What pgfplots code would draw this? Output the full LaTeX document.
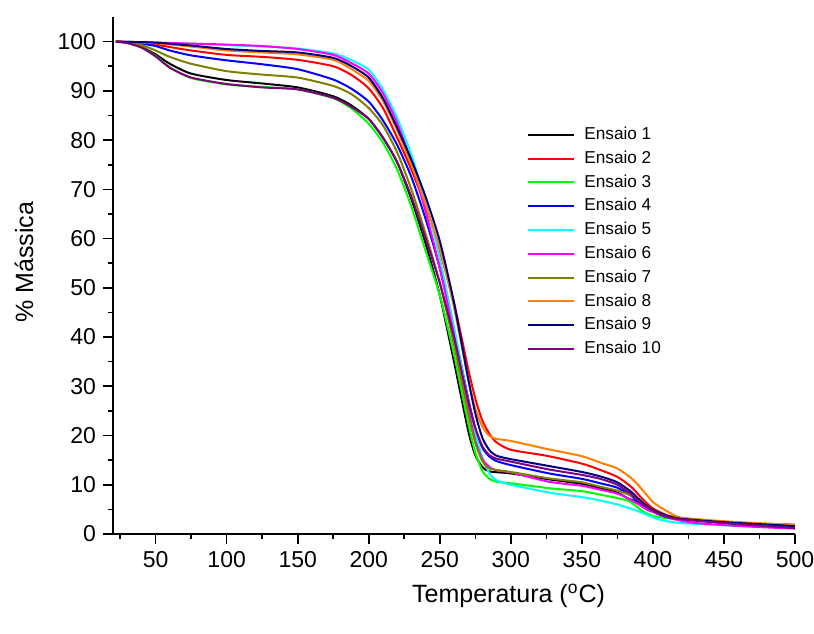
\documentclass[border=0pt]{standalone}
\usepackage{pgfplots}
\pgfplotsset{compat=1.18}
\usepackage{fontspec}
\setmainfont{Liberation Sans}
\definecolor{c1}{RGB}{0,0,0}
\definecolor{c2}{RGB}{255,0,0}
\definecolor{c3}{RGB}{0,255,0}
\definecolor{c4}{RGB}{0,0,255}
\definecolor{c5}{RGB}{0,255,255}
\definecolor{c6}{RGB}{255,0,255}
\definecolor{c7}{RGB}{128,128,0}
\definecolor{c8}{RGB}{255,128,0}
\definecolor{c9}{RGB}{0,0,128}
\definecolor{c10}{RGB}{128,0,128}
\begin{document}
\begin{tikzpicture}
\path[use as bounding box] (-56.5pt,-49.5pt) rectangle (350.5pt,267pt);
\begin{axis}[
  scale only axis, width=341pt, height=258.5pt,
  xmin=20, xmax=500, ymin=0, ymax=105,
  axis x line=bottom, axis y line=left,
  axis line style={-, line width=1pt},
  tick align=outside,
  major tick length=5pt, minor tick length=2.5pt,
  every tick/.style={black, line width=0.8pt},
  xtick={50,100,...,500}, minor xtick={25,75,...,475},
  ytick={0,10,...,100}, minor ytick={5,15,...,95},
  /pgf/number format/assume math mode=true,
  ticklabel style={font=\fontsize{11.5}{13}\selectfont},
  xlabel={Temperatura (\textsuperscript{o}C)},
  ylabel={\% Mássica},
  label style={font=\fontsize{12.5}{15}\selectfont},
  xlabel style={at={(axis description cs:0.58,-0.12)}, anchor=center},
  ylabel style={at={(axis description cs:-0.1305,0.526)}, anchor=center},
  legend style={at={(axis description cs:0.607,0.793)}, anchor=north west, draw=none, fill=none,
    font=\fontsize{8.6}{10}\selectfont, inner sep=0pt, row sep=1.6pt,
    nodes={inner sep=1pt, text height=6.5pt, text depth=1.8pt},
    /tikz/every odd column/.append style={column sep=3.5pt}},
  legend cell align=left,
  legend image code/.code={\draw[#1] (0pt,0pt) -- (23pt,0pt);},
  every axis plot/.append style={line width=1pt, smooth, tension=0.4},
]
% Ensaio 1
\addplot[c1] coordinates {(22,100)(30,99.8)(40,98.9)(50,97.4)(60,95.5)(75,93.5)(100,92.2)(125,91.5)(150,90.7)(175,88.9)(188,87.0)(200,84.3)(210,80.5)(220,75.5)(230,68)(240,59)(250,48.5)(260,35)(270,21)(275,16)(280,13.6)(285,12.7)(300,12.3)(327,11.1)(350,10.2)(363,9.3)(375,8.4)(382,7.3)(388,6.6)(395,5.4)(405,4.0)(420,3.1)(450,2.3)(475,1.9)(500,1.6)};
% Ensaio 2
\addplot[c2] coordinates {(22,100)(30,99.9)(40,99.7)(50,99.4)(60,98.9)(75,98.2)(100,97.3)(125,96.9)(150,96.3)(175,95)(188,93.2)(200,90.5)(210,86.5)(220,80.5)(230,74)(240,66.5)(250,57.5)(260,47)(270,33.5)(275,27.5)(280,23)(285,20.3)(290,18.6)(300,17.1)(325,15.9)(350,14.3)(363,13)(375,11.6)(385,9.5)(393,7)(400,5.2)(410,3.8)(420,3.2)(450,2.5)(475,2.1)(500,1.9)};
% Ensaio 3
\addplot[c3] coordinates {(22,100)(30,99.7)(40,98.8)(50,97.1)(60,94.8)(75,92.6)(100,91.3)(125,90.8)(150,90.3)(175,88.5)(188,86.4)(200,83.3)(210,79.5)(220,74)(230,66.5)(240,57.5)(250,48.5)(260,36.5)(270,22.5)(275,16.5)(280,12.8)(285,11.2)(290,10.6)(300,10.3)(327,9.3)(350,8.7)(363,8)(375,7.3)(383,6.7)(388,5.7)(393,4.6)(400,3.7)(410,3.2)(420,3)(450,2.3)(475,1.8)(500,1.5)};
% Ensaio 4
\addplot[c4] coordinates {(22,100)(30,99.9)(40,99.6)(50,99.1)(60,98.2)(75,97.2)(100,96.2)(125,95.4)(150,94.4)(175,92.3)(188,90.4)(200,87.8)(210,84)(220,79)(230,72.5)(240,64)(250,54)(260,41.5)(270,27.5)(275,21.5)(280,17.5)(285,15.7)(290,14.8)(300,14)(327,12.3)(350,11.2)(363,10.3)(375,9.4)(385,7.7)(393,5.7)(400,4.5)(410,3.4)(420,3)(450,2.3)(475,1.9)(500,1.6)};
% Ensaio 5
\addplot[c5] coordinates {(22,100)(30,99.95)(50,99.8)(75,99.6)(100,99.3)(125,99)(150,98.6)(175,97.6)(188,96.2)(200,94.3)(210,90.3)(220,84.5)(230,77)(240,67.5)(250,56)(260,42)(270,27)(275,20.5)(280,15.5)(285,12.3)(290,10.9)(300,10)(327,8.4)(350,7.5)(363,6.8)(375,6.0)(386,5.0)(395,4.0)(400,3.4)(405,2.9)(412,2.5)(421,2.2)(450,1.8)(475,1.5)(500,1.3)};
% Ensaio 6
\addplot[c6] coordinates {(22,100)(30,99.95)(50,99.8)(75,99.6)(100,99.4)(125,99.1)(150,98.5)(175,97.3)(188,95.6)(200,93.5)(210,89.5)(220,83.5)(230,75.5)(240,65.5)(250,54)(260,40.5)(270,25.5)(275,19)(280,15.2)(285,13.6)(290,12.9)(300,12.5)(327,10.6)(350,9.8)(363,9)(375,8.2)(382,7.3)(390,6.0)(396,4.9)(405,4.0)(415,3.0)(428,2.3)(450,1.8)(475,1.4)(500,1.1)};
% Ensaio 7
\addplot[c7] coordinates {(22,100)(30,99.9)(40,99.3)(50,98.2)(60,96.9)(75,95.5)(100,94)(125,93.3)(150,92.7)(175,91)(188,89.3)(200,86.5)(210,83)(220,77.5)(230,70)(240,61)(250,51)(260,38.5)(270,24.5)(275,18.5)(280,14.8)(285,13.3)(300,12.6)(327,11.3)(350,10.5)(363,9.6)(375,8.8)(385,7.8)(392,6.7)(398,5.0)(405,4.1)(420,3.2)(450,2.4)(475,2)(500,1.6)};
% Ensaio 8
\addplot[c8] coordinates {(22,100)(30,99.95)(50,99.7)(75,99)(100,98.2)(125,97.8)(150,97.4)(175,96.3)(188,94.4)(200,92)(210,88)(220,82)(230,75)(240,67)(250,58)(260,46)(270,31.5)(275,25.5)(280,21.8)(285,19.9)(290,19.3)(300,18.9)(325,17.3)(350,15.8)(365,14.3)(375,13.3)(385,11.3)(391,9.5)(400,6.5)(406,5.3)(412,4.3)(420,3.3)(450,2.6)(475,2.2)(500,1.9)};
% Ensaio 9
\addplot[c9] coordinates {(22,100)(30,99.95)(50,99.8)(75,99.2)(100,98.5)(125,98.1)(150,97.8)(175,96.7)(188,95.0)(200,92.7)(210,88.5)(220,82.5)(230,76)(240,68.5)(250,59.5)(260,47)(270,31.5)(275,24.5)(280,19.5)(285,17)(290,15.9)(300,15.2)(327,13.8)(350,12.6)(363,11.7)(375,10.5)(385,8.5)(393,6.3)(400,4.9)(410,3.7)(420,3.1)(450,2.4)(475,2)(500,1.6)};
% Ensaio 10
\addplot[c10] coordinates {(22,100)(30,99.7)(40,98.8)(50,97)(60,94.7)(75,92.7)(100,91.4)(125,90.7)(150,90.3)(175,88.6)(188,86.7)(200,84.3)(210,80.5)(220,75.5)(230,68.5)(240,60)(250,51)(260,40)(270,27)(275,21.5)(280,17.8)(285,16)(290,15.3)(300,14.7)(327,13.1)(350,12)(363,11.2)(375,10)(385,8)(393,6)(400,4.7)(410,3.5)(420,3)(450,2.2)(475,1.7)(500,1.2)};
\legend{Ensaio 1,Ensaio 2,Ensaio 3,Ensaio 4,Ensaio 5,Ensaio 6,Ensaio 7,Ensaio 8,Ensaio 9,Ensaio 10}
\end{axis}
\end{tikzpicture}
\end{document}
